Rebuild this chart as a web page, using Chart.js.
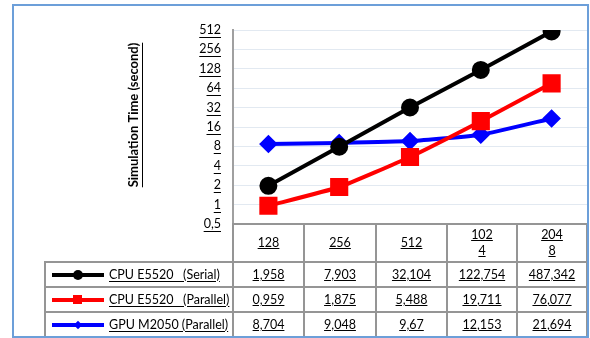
<!DOCTYPE html>
<html>
<head>
<meta charset="utf-8">
<script src="https://cdn.jsdelivr.net/npm/chart.js@4"></script>
<style>
  body { margin: 0; width: 590px; height: 338px; position: relative; background: #fff; font-family: Lato, "Open Sans", sans-serif; overflow: hidden; }
  #grafica { position: absolute; left: 0; top: 0; }
  #frame { position: absolute; left: 12px; top: 4px; width: 573px; height: 330px; border: 2px solid #6c9fd9; pointer-events: none; z-index: 5; }
  table { position: absolute; left: 44px; top: 223px; border-collapse: collapse; table-layout: fixed; font-size: 12.5px; color: #000; }
  td { border: 2px solid #959595; text-align: center; padding: 0; height: 23px; text-decoration: underline; }
  tr.head td { height: 36px; }
  tr.head td.blank { border: none; }
  td.leg { text-align: left; white-space: pre; text-decoration: none; }
  td.leg u { vertical-align: middle; }
  .hd { display: inline-block; width: 22px; word-break: break-all; line-height: 16px; text-decoration: underline; }
  .ls { display: inline-block; position: relative; width: 52px; height: 10px; margin: 0 5px 0 6px; vertical-align: middle; }
  .ls i { position: absolute; left: 0; top: 3px; width: 52px; height: 4px; }
  .ls b { position: absolute; left: 22px; top: 1px; width: 8px; height: 8px; }
</style>
</head>
<body>
<canvas id="grafica" width="588" height="240"></canvas>
<table id="tabla"></table>
<div id="frame"></div>
<script>
// Datos de la grafica
const categorias = ['128', '256', '512', '1024', '2048'];
const cpuSerial = [1.958, 7.903, 32.104, 122.754, 487.342];
const cpuParalelo = [0.959, 1.875, 5.488, 19.711, 76.077];
const gpuParalelo = [8.704, 9.048, 9.67, 12.153, 21.694];
const ticksY = [0.5, 1, 2, 4, 8, 16, 32, 64, 128, 256, 512];

const nombres = ['CPU E5520   (Serial)', 'CPU E5520   (Parallel)', 'GPU M2050 (Parallel)'];
const colores = ['#000000', '#ff0000', '#0000ff'];

const coma = (v) => String(v).replace('.', ',');

// Tabla de datos debajo del grafico
const tabla = document.getElementById('tabla');
const anchos = [188, 71, 72, 71, 70, 70];
let html = '<colgroup>' + anchos.map(w => `<col style="width:${w}px">`).join('') + '</colgroup>';
html += '<tr class="head"><td class="blank"></td>' + categorias.map(c => `<td style="text-decoration:none"><span class="hd">${c}</span></td>`).join('') + '</tr>';
const series = [cpuSerial, cpuParalelo, gpuParalelo];
const marcas = [
  'border-radius:50%;width:10px;height:10px;left:21px;top:0px',
  'width:9px;height:9px;left:21px;top:0px',
  'transform:rotate(45deg);width:6px;height:6px;left:23px;top:2px'
];
series.forEach((s, i) => {
  html += `<tr><td class="leg"><span class="ls"><i style="background:${colores[i]}"></i><b style="background:${colores[i]};${marcas[i]}"></b></span><u>${nombres[i]}</u></td>`;
  html += s.map(v => `<td>${coma(v)}</td>`).join('') + '</tr>';
});
tabla.innerHTML = html;

// Subrayar etiquetas del eje y y dibujar el titulo
const extras = {
  id: 'extras',
  afterDraw(chart) {
    const ctx = chart.ctx;
    const y = chart.scales.y;
    ctx.save();
    ctx.font = '12.5px Lato';
    ctx.strokeStyle = '#000';
    ctx.fillStyle = '#000';
    ctx.lineWidth = 1;
    const xr = chart.chartArea.left - 12;
    ticksY.forEach(v => {
      const w = ctx.measureText(coma(v)).width;
      const py = Math.round(y.getPixelForValue(v) + 7) + 0.5;
      ctx.beginPath();
      ctx.moveTo(xr - w, py);
      ctx.lineTo(xr, py);
      ctx.stroke();
    });
    // titulo
    ctx.translate(134, 115);
    ctx.rotate(-Math.PI / 2);
    ctx.font = 'bold 13px Lato';
    ctx.textAlign = 'center';
    ctx.textBaseline = 'middle';
    const t = 'Simulation Time (second)';
    ctx.fillText(t, 0, 0);
    const tw = ctx.measureText(t).width;
    ctx.beginPath();
    ctx.moveTo(-tw / 2, 8.5);
    ctx.lineTo(tw / 2, 8.5);
    ctx.stroke();
    ctx.restore();
  }
};

const Canvas = document.getElementById('grafica');

const datosGrafica = {
  labels: categorias,
  datasets: [{
    label: nombres[0],
    data: cpuSerial,
    borderColor: colores[0],
    backgroundColor: colores[0],
    borderWidth: 4,
    pointStyle: 'circle',
    pointRadius: 7,
    tension: 0
  }, {
    label: nombres[1],
    data: cpuParalelo,
    borderColor: colores[1],
    backgroundColor: colores[1],
    borderWidth: 4,
    pointStyle: 'rect',
    pointRadius: 10,
    tension: 0.15
  }, {
    label: nombres[2],
    data: gpuParalelo,
    borderColor: colores[2],
    backgroundColor: colores[2],
    borderWidth: 4,
    pointStyle: 'rectRot',
    pointRadius: 6.5,
    tension: 0.15
  }]
};

const grafica = new Chart(Canvas, {
  type: 'line',
  data: datosGrafica,
  options: {
    responsive: false,
    animation: false,
    layout: { autoPadding: false, padding: { top: 30, right: 1, bottom: 16, left: 0 } },
    plugins: { legend: { display: false }, tooltip: { enabled: false } },
    scales: {
      x: {
        type: 'category',
        offset: true,
        grid: { display: false },
        border: { display: true, color: '#8f8f8f', width: 2 },
        ticks: { display: false },
        afterFit: (s) => { s.height = 0; s.paddingLeft = 0; s.paddingRight = 0; }
      },
      y: {
        type: 'logarithmic',
        min: 0.5,
        max: 512,
        afterBuildTicks: (s) => { s.ticks = ticksY.map(v => ({ value: v })); },
        afterFit: (s) => { s.width = 233; s.paddingTop = 0; s.paddingBottom = 0; },
        grid: { color: '#e2e9f1', lineWidth: 1, drawTicks: false },
        border: { display: true, color: '#a0a0a0', width: 2 },
        ticks: {
          color: '#000',
          padding: 12,
          font: { family: 'Lato', size: 12.5 },
          callback: (v) => coma(v)
        }
      }
    }
  },
  plugins: [extras]
});
</script>
</body>
</html>
